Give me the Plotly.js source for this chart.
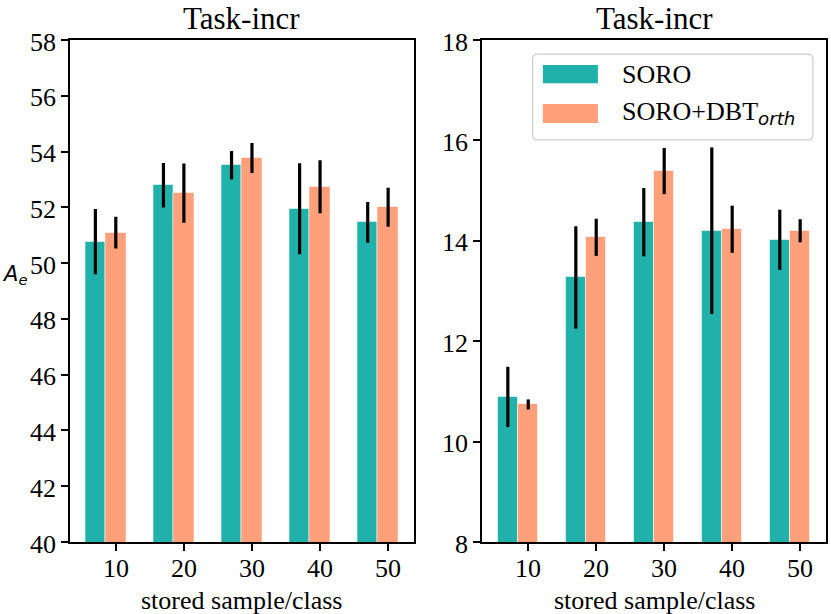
<!DOCTYPE html>
<html>
<head>
<meta charset="utf-8">
<script src="https://cdn.plot.ly/plotly-3.0.1.min.js"></script>
<style>html,body{margin:0;padding:0;background:#fff;}#chart{width:831px;height:614px;}</style>
</head>
<body>
<div id="chart"></div>
<script>
// ---- data ----
const categories = ['10', '20', '30', '40', '50'];
const seriesNames = ['SORO', 'SORO+DBT<sub><span style="font-family:DejaVu Sans"><i>orth</i></span></sub>'];
const panelTitles = ['Task-incr', 'Task-incr'];
const xLabel = 'stored sample/class';
const yLabel = '<i>A</i><sub><i>e</i></sub>';
const leftTicks = [40, 42, 44, 46, 48, 50, 52, 54, 56, 58];
const rightTicks = [8, 10, 12, 14, 16, 18];

const soroLeft = [50.77, 52.79, 53.51, 51.95, 51.46];
const soroLeftErr = [1.17, 0.80, 0.51, 1.63, 0.73];
const dbtLeft = [51.09, 52.51, 53.77, 52.74, 52.00];
const dbtLeftErr = [0.57, 1.06, 0.54, 0.95, 0.70];

const soroRight = [10.89, 13.27, 14.37, 14.20, 14.02];
const soroRightErr = [0.60, 1.02, 0.68, 1.66, 0.60];
const dbtRight = [10.74, 14.07, 15.39, 14.23, 14.20];
const dbtRightErr = [0.10, 0.37, 0.46, 0.47, 0.23];

// ---- style ----
const C1 = '#20B2AA', C2 = '#FFA07A';
const W = 0.3;
const SERIF = 'Liberation Serif';
const idx = categories.map((_, i) => i);
const FT = {family: SERIF, size: 26, color: '#000'};

function barTrace(xs, ys, errs, color, xa, ya) {
  return {
    type: 'bar', x: xs, y: ys, width: W, xaxis: xa, yaxis: ya,
    marker: {color: color, line: {color: 'rgba(255,255,255,0.55)', width: 1}},
    error_y: {type: 'data', array: errs, visible: true, color: '#000', thickness: 3.2, width: 0},
    showlegend: false, hoverinfo: 'skip'
  };
}

const data = [
  barTrace(idx, soroLeft, soroLeftErr, C1, 'x', 'y'),
  barTrace(idx.map(i => i + W), dbtLeft, dbtLeftErr, C2, 'x', 'y'),
  barTrace(idx, soroRight, soroRightErr, C1, 'x2', 'y2'),
  barTrace(idx.map(i => i + W), dbtRight, dbtRightErr, C2, 'x2', 'y2')
];

function makeX(domain, anchor) {
  return {
    domain: domain, anchor: anchor, range: [-0.38, 4.68],
    tickmode: 'array', tickvals: idx.map(i => i + W), ticktext: categories, showticklabels: false,
    ticks: 'outside', ticklen: 7, tickwidth: 1.5, tickcolor: '#000',
    showline: true, linecolor: '#000', linewidth: 1.6, mirror: true,
    showgrid: false, zeroline: false
  };
}
function makeY(domain, anchor, ticks) {
  return {
    domain: domain, anchor: anchor, range: [ticks[0], ticks[ticks.length - 1]],
    tickmode: 'array', tickvals: ticks, showticklabels: false,
    ticks: 'outside', ticklen: 7, tickwidth: 1.5, tickcolor: '#000',
    showline: true, linecolor: '#000', linewidth: 1.6, mirror: true,
    showgrid: false, zeroline: false
  };
}

// tick labels as text placed through each axis' own scale
function xTickLabels(xa) {
  return categories.map((c, i) => ({
    text: c, xref: xa, yref: xa === 'x' ? 'y domain' : 'y2 domain', x: i + W, y: 0,
    xanchor: 'center', yanchor: 'middle', yshift: -26, showarrow: false, font: FT
  }));
}
function yTickLabels(ya, ticks) {
  return ticks.map(v => ({
    text: String(v), xref: ya === 'y' ? 'x domain' : 'x2 domain', yref: ya, x: 0, y: v,
    xanchor: 'right', yanchor: 'middle', xshift: -12, yshift: -2, showarrow: false, font: FT
  }));
}

const yDom = [1 - 542 / 614, 1 - 40 / 614];
const legendPath = (function () {
  const x0 = 0.147, x1 = 0.962, y0 = 0.801, y1 = 0.972;
  const rx = 5 / 344, ry = 5 / 502;
  return 'M' + (x0 + rx) + ',' + y0 + ' L' + (x1 - rx) + ',' + y0 +
    ' Q' + x1 + ',' + y0 + ' ' + x1 + ',' + (y0 + ry) + ' L' + x1 + ',' + (y1 - ry) +
    ' Q' + x1 + ',' + y1 + ' ' + (x1 - rx) + ',' + y1 + ' L' + (x0 + rx) + ',' + y1 +
    ' Q' + x0 + ',' + y1 + ' ' + x0 + ',' + (y1 - ry) + ' L' + x0 + ',' + (y0 + ry) +
    ' Q' + x0 + ',' + y0 + ' ' + (x0 + rx) + ',' + y0 + ' Z';
})();

const layout = {
  width: 831, height: 614, autosize: false,
  font: FT,
  margin: {l: 0, r: 0, t: 0, b: 0},
  paper_bgcolor: '#fff', plot_bgcolor: '#fff',
  bargap: 0, barmode: 'overlay',
  xaxis: makeX([69.5 / 831, 414 / 831], 'y'),
  yaxis: makeY(yDom, 'x', leftTicks),
  xaxis2: makeX([482 / 831, 826 / 831], 'y2'),
  yaxis2: makeY(yDom, 'x2', rightTicks),
  annotations: [].concat(
    xTickLabels('x'), xTickLabels('x2'),
    yTickLabels('y', leftTicks), yTickLabels('y2', rightTicks),
    [
      {text: xLabel, xref: 'x domain', yref: 'paper', x: 0.5, y: 1 - 600 / 614,
       xanchor: 'center', yanchor: 'middle', showarrow: false, font: FT},
      {text: xLabel, xref: 'x2 domain', yref: 'paper', x: 0.5, y: 1 - 600 / 614,
       xanchor: 'center', yanchor: 'middle', showarrow: false, font: FT},
      {text: panelTitles[0], xref: 'x domain', yref: 'paper', x: 0.5, y: 1 - 18 / 614,
       xanchor: 'center', yanchor: 'middle', showarrow: false,
       font: {family: SERIF, size: 31, color: '#000'}},
      {text: panelTitles[1], xref: 'x2 domain', yref: 'paper', x: 0.5, y: 1 - 18 / 614,
       xanchor: 'center', yanchor: 'middle', showarrow: false,
       font: {family: SERIF, size: 31, color: '#000'}},
      {text: yLabel, xref: 'paper', yref: 'paper', x: 0, y: 1 - 275 / 614,
       xanchor: 'left', yanchor: 'middle', showarrow: false,
       font: {family: 'DejaVu Sans', size: 21, color: '#000'}},
      {text: seriesNames[0], xref: 'x2 domain', yref: 'y2 domain', x: 0.401, y: 0.932,
       xanchor: 'left', yanchor: 'middle', showarrow: false, font: FT},
      {text: seriesNames[1], xref: 'x2 domain', yref: 'y2 domain', x: 0.401, y: 0.855,
       xanchor: 'left', yanchor: 'middle', showarrow: false, font: FT}
    ]),
  shapes: [
    {type: 'path', xref: 'x2 domain', yref: 'y2 domain', path: legendPath,
     fillcolor: 'rgba(255,255,255,0.8)', line: {color: '#cccccc', width: 1.2}, layer: 'above'},
    {type: 'rect', xref: 'x2 domain', yref: 'y2 domain', x0: 0.177, x1: 0.337, y0: 0.914, y1: 0.950,
     fillcolor: C1, line: {width: 0}, layer: 'above'},
    {type: 'rect', xref: 'x2 domain', yref: 'y2 domain', x0: 0.177, x1: 0.337, y0: 0.8347, y1: 0.8725,
     fillcolor: C2, line: {width: 0}, layer: 'above'}
  ]
};

Plotly.newPlot('chart', data, layout, {displayModeBar: false});
</script>
</body>
</html>
